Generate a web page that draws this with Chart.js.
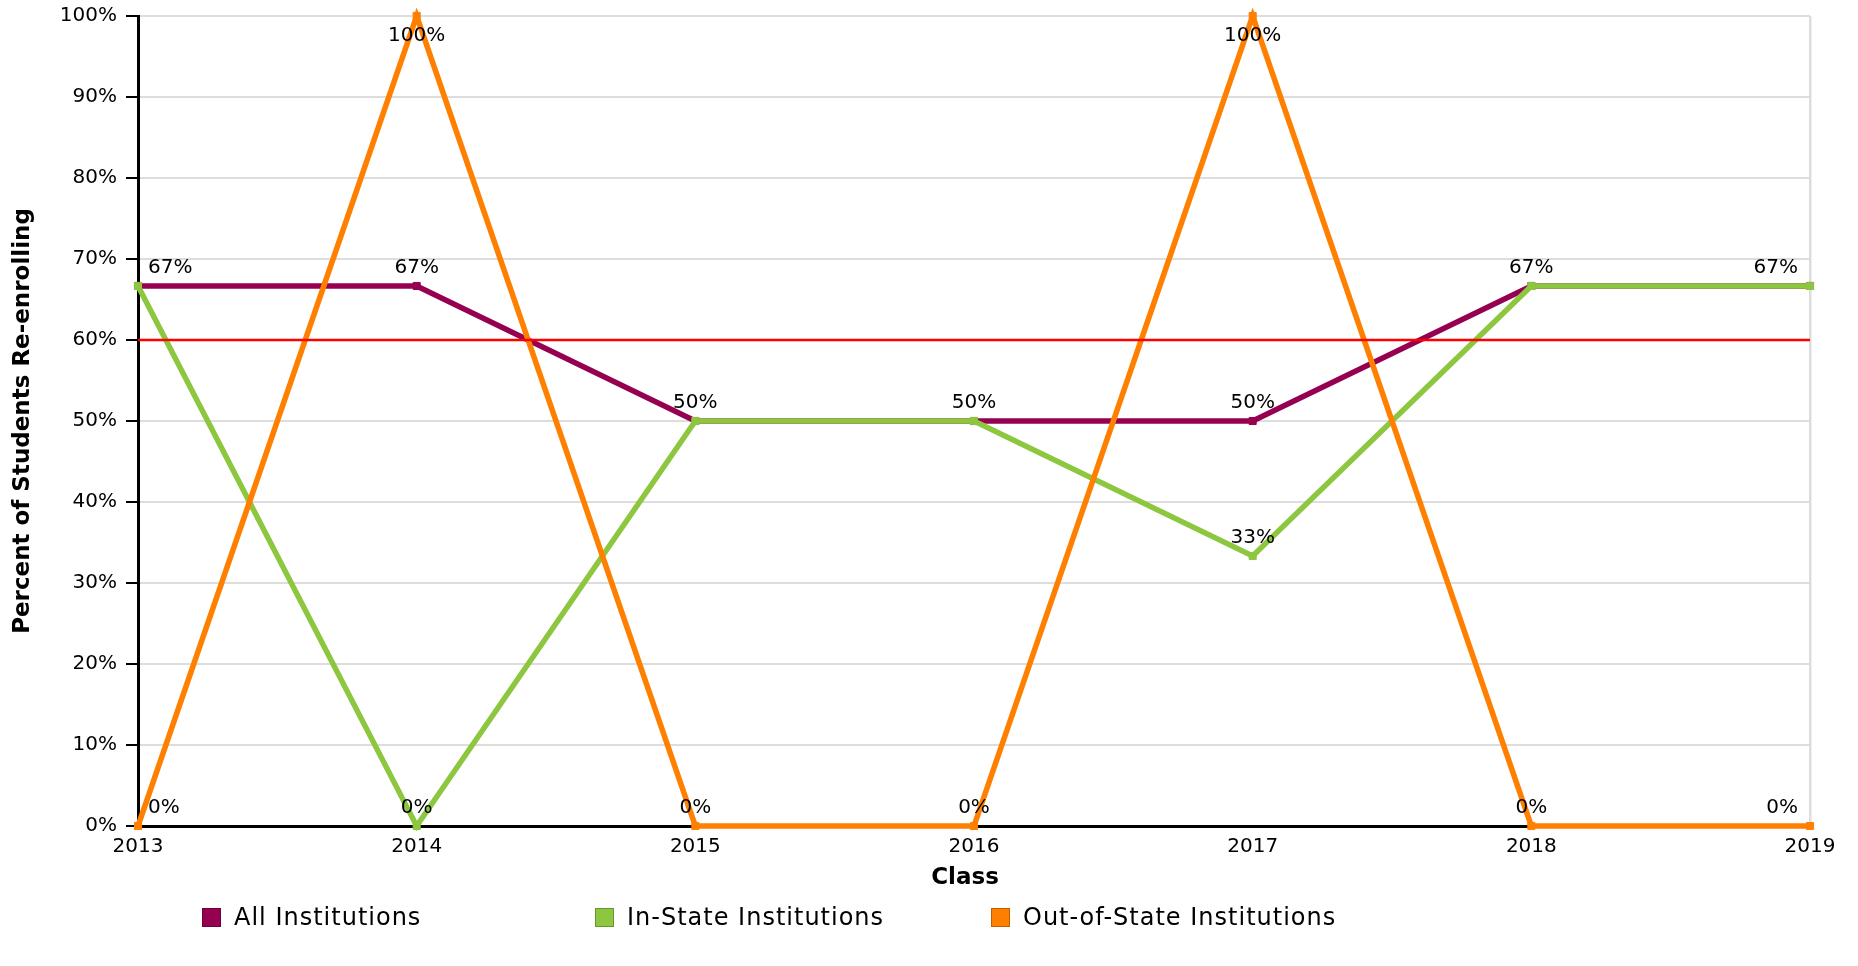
<!DOCTYPE html>
<html>
<head>
<meta charset="utf-8">
<script src="https://cdn.jsdelivr.net/npm/chart.js@4.4.1/dist/chart.umd.min.js"></script>
<style>
  html, body { margin: 0; padding: 0; background: #ffffff; }
  #wrap { position: relative; width: 1858px; height: 966px; }
  #c { position: absolute; left: 0; top: 0; }
  .leg { position: absolute; top: 904px; height: 26px; display: flex; align-items: center;
         font-family: "DejaVu Sans", sans-serif; font-size: 24px; letter-spacing: 1px; color: #000; white-space: nowrap; }
  .leg .sw { width: 17px; height: 17px; border: 1px solid rgba(0,0,0,0.25); margin-right: 13px; }
</style>
</head>
<body>
<div id="wrap">
  <canvas id="c" width="1858" height="966"></canvas>
  <div id="legend"></div>
</div>
<script>
const categories = ['2013', '2014', '2015', '2016', '2017', '2018', '2019'];
const allInstitutions = [66.67, 66.67, 50, 50, 50, 66.67, 66.67];
const inStateInstitutions = [66.67, 0, 50, 50, 33.33, 66.67, 66.67];
const outOfStateInstitutions = [0, 100, 0, 0, 100, 0, 0];
const seriesNames = ['All Institutions', 'In-State Institutions', 'Out-of-State Institutions'];
const seriesColors = ['#960051', '#8DC63F', '#FF8000'];
const targetValue = 60;
const yTickValues = [0, 10, 20, 30, 40, 50, 60, 70, 80, 90, 100];
const xTitle = 'Class';
const yTitle = 'Percent of Students Re-enrolling';

const FONT = '"DejaVu Sans", sans-serif';

const targetLine = {
  id: 'targetLine',
  afterDatasetsDraw(chart) {
    const {ctx, chartArea, scales} = chart;
    const y = scales.y.getPixelForValue(targetValue);
    ctx.save();
    ctx.strokeStyle = '#FF0000';
    ctx.lineWidth = 2.5;
    ctx.beginPath();
    ctx.moveTo(chartArea.left, y);
    ctx.lineTo(chartArea.right, y);
    ctx.stroke();
    ctx.restore();
  }
};

const valueLabels = {
  id: 'valueLabels',
  afterDatasetsDraw(chart) {
    const {ctx, chartArea} = chart;
    ctx.save();
    ctx.font = '20px ' + FONT;
    ctx.fillStyle = '#000';
    ctx.textAlign = 'center';
    ctx.textBaseline = 'middle';
    const drawn = new Set();
    chart.data.datasets.forEach((ds, di) => {
      const meta = chart.getDatasetMeta(di);
      meta.data.forEach((pt, i) => {
        const txt = Math.round(ds.data[i]) + '%';
        const w = ctx.measureText(txt).width;
        let x = pt.x;
        x = Math.max(x, chartArea.left + 10 + w / 2);
        x = Math.min(x, chartArea.right - 12 - w / 2);
        let y = pt.y - 18;
        if (y - 10 < chartArea.top) y = pt.y + 20;
        const key = txt + '@' + Math.round(x) + ',' + Math.round(y);
        if (drawn.has(key)) return;
        drawn.add(key);
        ctx.fillText(txt, x, y);
      });
    });
    ctx.restore();
  }
};

const xAxisTitle = {
  id: 'xAxisTitle',
  afterDraw(chart) {
    const {ctx, chartArea} = chart;
    ctx.save();
    ctx.font = 'bold 23px ' + FONT;
    ctx.fillStyle = '#000';
    ctx.textAlign = 'center';
    ctx.textBaseline = 'middle';
    ctx.fillText(xTitle, (chartArea.left + chartArea.right) / 2 - 9, chartArea.bottom + 52);
    ctx.restore();
  }
};

const datasets = [allInstitutions, inStateInstitutions, outOfStateInstitutions].map((vals, k) => ({
  label: seriesNames[k],
  data: vals,
  borderColor: seriesColors[k],
  backgroundColor: seriesColors[k],
  borderWidth: 5.5,
  pointStyle: 'rect',
  pointRadius: 5,
  pointBorderWidth: 1,
  pointHoverRadius: 5,
  tension: 0,
  clip: false,
  order: 3 - k
}));

new Chart(document.getElementById('c'), {
  type: 'line',
  data: { labels: categories, datasets },
  options: {
    responsive: false,
    animation: false,
    devicePixelRatio: 1,
    layout: { padding: { top: 16, right: 48, bottom: 74, left: 0 } },
    plugins: { legend: { display: false }, tooltip: { enabled: false } },
    scales: {
      x: {
        type: 'category',
        offset: false,
        border: { display: true, color: '#000', width: 3 },
        grid: {
          drawTicks: false,
          lineWidth: 2.5,
          color: (c) => (c.index === categories.length - 1 ? '#dddddd' : 'rgba(0,0,0,0)')
        },
        ticks: { color: '#000', font: { family: FONT, size: 20 }, padding: 9, maxRotation: 0, autoSkip: false },
        title: { display: false },
        afterFit: (axis) => { axis.height = 66; }
      },
      y: {
        min: 0,
        max: 100,
        afterBuildTicks: (axis) => { axis.ticks = yTickValues.map(v => ({ value: v })); },
        border: { display: true, color: '#000', width: 3 },
        grid: {
          lineWidth: 2,
          color: (c) => (c.tick && c.tick.value === 0 ? 'rgba(0,0,0,0)' : '#dddddd'),
          tickColor: '#000',
          tickLength: 12,
          tickWidth: 2
        },
        ticks: { color: '#000', font: { family: FONT, size: 20 }, padding: 9, callback: (v) => v + '%' },
        title: { display: true, text: yTitle, color: '#000', font: { family: FONT, size: 23, weight: 'bold' }, padding: { top: 9, bottom: 0 } },
        afterFit: (axis) => { axis.width = 138; axis.paddingTop = 0; axis.paddingBottom = 0; }
      }
    }
  },
  plugins: [targetLine, valueLabels, xAxisTitle]
});

const legendLefts = [202, 595, 991];
const legendEl = document.getElementById('legend');
seriesNames.forEach((name, k) => {
  const item = document.createElement('div');
  item.className = 'leg';
  item.style.left = legendLefts[k] + 'px';
  const sw = document.createElement('div');
  sw.className = 'sw';
  sw.style.background = seriesColors[k];
  const tx = document.createElement('span');
  tx.textContent = name;
  item.appendChild(sw);
  item.appendChild(tx);
  legendEl.appendChild(item);
});
</script>
</body>
</html>
